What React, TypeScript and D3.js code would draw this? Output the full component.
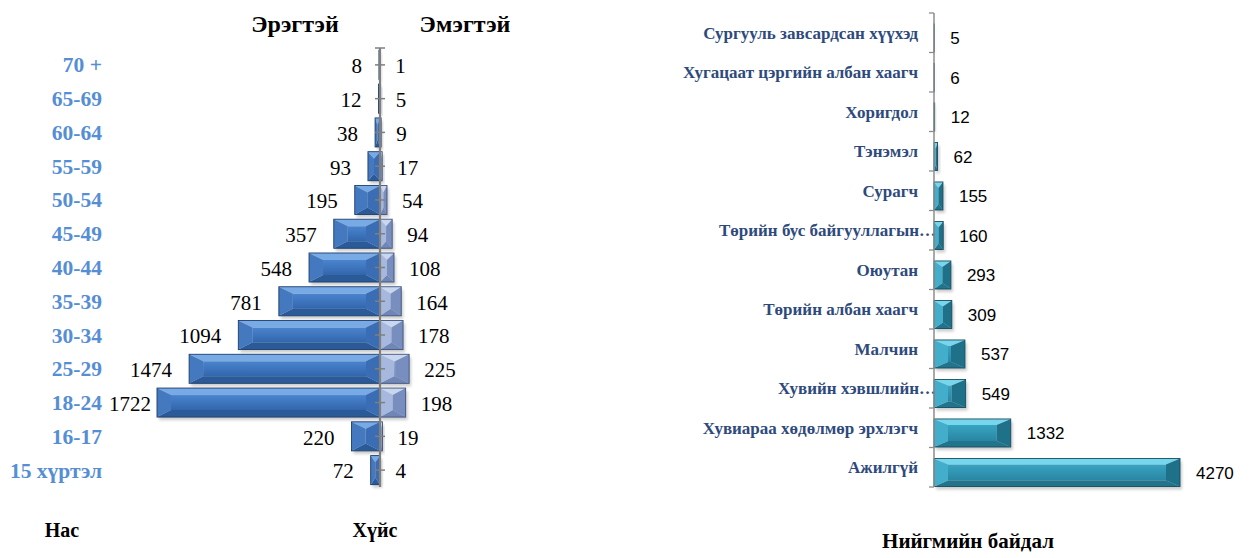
import React from 'react';
import * as d3 from 'd3';

// Нас / хүйсээр
const ageGroups = ['70 +', '65-69', '60-64', '55-59', '50-54', '45-49', '40-44', '35-39', '30-34', '25-29', '18-24', '16-17', '15 хүртэл'];
const maleCounts = [8, 12, 38, 93, 195, 357, 548, 781, 1094, 1474, 1722, 220, 72];
const femaleCounts = [1, 5, 9, 17, 54, 94, 108, 164, 178, 225, 198, 19, 4];

// Нийгмийн байдал
const statusLabels = [
  'Сургууль завсардсан хүүхэд',
  'Хугацаат цэргийн албан хаагч',
  'Хоригдол',
  'Тэнэмэл',
  'Сурагч',
  'Төрийн бус байгууллагын…',
  'Оюутан',
  'Төрийн албан хаагч',
  'Малчин',
  'Хувийн хэвшлийн…',
  'Хувиараа хөдөлмөр эрхлэгч',
  'Ажилгүй',
];
const statusCounts = [5, 6, 12, 62, 155, 160, 293, 309, 537, 549, 1332, 4270];

const SERIF = '"Liberation Serif", "Times New Roman", serif';
const SANS = '"Liberation Sans", Arial, sans-serif';

type Pal = { face0: string; face1: string; top: string; bottom: string; left: string; right: string; line: string };

const malePal: Pal = { face0: '#4A84CE', face1: '#3266AC', top: '#78AAE6', bottom: '#2A5A98', left: '#4479C0', right: '#3A6DB3', line: '#1C3D6C' };
const femalePal: Pal = { face0: '#93A7D2', face1: '#8297C6', top: '#C9D6EF', bottom: '#7086B6', left: '#A6B8DD', right: '#788EBE', line: '#3E537E' };
const tealPal: Pal = { face0: '#38A4C2', face1: '#2986A2', top: '#78D6EC', bottom: '#22738C', left: '#43AECB', right: '#1F7089', line: '#144E61' };

function BevelBar({ x, y, w, h, pal, id, ey0 = 7 }: { x: number; y: number; w: number; h: number; pal: Pal; id: string; ey0?: number }) {
  if (w <= 0.2) return null;
  const ex = Math.min(14, w / 2);
  const ey = Math.min(ey0, h / 2);
  const x0 = x, x1 = x + w, y0 = y, y1 = y + h;
  const ix0 = x0 + ex, ix1 = x1 - ex, iy0 = y0 + ey, iy1 = y1 - ey;
  const pts = (a: number[][]) => a.map(p => p.join(',')).join(' ');
  return (
    <g>
      <rect x={x + 2} y={y + 3} width={w} height={h} fill="#000" opacity={0.2} filter="url(#soft)" />
      <rect x={ix0} y={iy0} width={Math.max(0, ix1 - ix0)} height={Math.max(0, iy1 - iy0)} fill={`url(#${id})`} />
      <polygon points={pts([[x0, y0], [x1, y0], [ix1, iy0], [ix0, iy0]])} fill={pal.top} />
      <polygon points={pts([[x0, y1], [x1, y1], [ix1, iy1], [ix0, iy1]])} fill={pal.bottom} />
      <polygon points={pts([[x0, y0], [ix0, iy0], [ix0, iy1], [x0, y1]])} fill={pal.left} />
      <polygon points={pts([[x1, y0], [ix1, iy0], [ix1, iy1], [x1, y1]])} fill={pal.right} />
      <rect x={x0} y={y0} width={w} height={h} fill="none" stroke={pal.line} strokeWidth={0.9} />
    </g>
  );
}

function Grad({ id, pal }: { id: string; pal: Pal }) {
  return (
    <linearGradient id={id} x1="0" y1="0" x2="0" y2="1">
      <stop offset="0%" stopColor={pal.face0} />
      <stop offset="100%" stopColor={pal.face1} />
    </linearGradient>
  );
}

export default function App() {
  // pyramid
  const axisX = 380;
  const len = d3.scaleLinear().domain([0, 1722]).range([0, 223]);
  const yAge = d3.scaleBand<string>().domain(ageGroups).range([48, 487]).paddingInner(0.14).paddingOuter(0.07);
  const ageRowY = (a: string) => (yAge(a) ?? 0) + yAge.bandwidth() / 2;
  const ageLabelX = 102;

  // social status
  const baseX = 934;
  const xS = d3.scaleLinear().domain([0, 4270]).range([baseX, 1180]);
  const yS = d3.scaleBand<string>().domain(statusLabels).range([13, 487]).padding(0);
  const barH = yS.bandwidth() * 0.71;

  return (
    <svg width={1251} height={558} style={{ position: 'absolute', left: 0, top: 0, background: '#fff' }}>
      <defs>
        <filter id="soft" x="-20%" y="-20%" width="140%" height="160%">
          <feGaussianBlur stdDeviation="1.4" />
        </filter>
        <Grad id="gMale" pal={malePal} />
        <Grad id="gFemale" pal={femalePal} />
        <Grad id="gTeal" pal={tealPal} />
      </defs>

      {/* ---------- Population pyramid ---------- */}
      <text x={295} y={32} textAnchor="middle" fontFamily={SERIF} fontWeight="bold" fontSize={24} fill="#000">Эрэгтэй</text>
      <text x={465} y={32} textAnchor="middle" fontFamily={SERIF} fontWeight="bold" fontSize={24} fill="#000">Эмэгтэй</text>

      {ageGroups.map((a, i) => {
        const cy = ageRowY(a);
        const y0 = yAge(a) ?? 0;
        const mw = len(maleCounts[i]);
        const fw = len(femaleCounts[i]);
        const maleLabelRight = Math.max(axisX - mw - 17, ageLabelX + 49);
        return (
          <g key={a}>
            <BevelBar x={axisX - mw} y={y0} w={mw} h={yAge.bandwidth()} pal={malePal} id="gMale" />
            <BevelBar x={axisX} y={y0} w={fw} h={yAge.bandwidth()} pal={femalePal} id="gFemale" />
            <text x={ageLabelX} y={cy} dy="0.35em" textAnchor="end" fontFamily={SERIF} fontWeight="bold" fontSize={21.5} fill="#558ED5">{a}</text>
            <text x={maleLabelRight} y={cy + 1} dy="0.35em" textAnchor="end" fontFamily={SERIF} fontSize={21} fill="#000">{maleCounts[i]}</text>
            <text x={axisX + fw + 15} y={cy + 1} dy="0.35em" textAnchor="start" fontFamily={SERIF} fontSize={21} fill="#000">{femaleCounts[i]}</text>
          </g>
        );
      })}

      {/* axis */}
      <line x1={axisX} x2={axisX} y1={48} y2={487} stroke="#7F7F7F" strokeWidth={2.2} />
      <line x1={axisX - 5} x2={axisX + 5} y1={48} y2={48} stroke="#7F7F7F" strokeWidth={1.5} />
      {ageGroups.map(a => (
        <line key={a} x1={axisX - 5} x2={axisX + 5} y1={ageRowY(a)} y2={ageRowY(a)} stroke="#7F7F7F" strokeWidth={1.5} />
      ))}

      <text x={62} y={537} textAnchor="middle" fontFamily={SERIF} fontWeight="bold" fontSize={20} fill="#000">Нас</text>
      <text x={375} y={537} textAnchor="middle" fontFamily={SERIF} fontWeight="bold" fontSize={20} fill="#000">Хүйс</text>

      {/* ---------- Social status ---------- */}
      {statusLabels.map((c, i) => {
        const b0 = yS(c) ?? 0;
        const cy = b0 + yS.bandwidth() / 2;
        const by = b0 + yS.bandwidth() - barH - 0.5;
        const w = xS(statusCounts[i]) - baseX;
        const truncated = c.endsWith('…');
        return (
          <g key={c}>
            <BevelBar x={baseX} y={by} w={w} h={barH} pal={tealPal} id="gTeal" ey0={6} />
            <text x={truncated ? 936 : 918} y={cy} dy="0.35em" textAnchor="end" fontFamily={SERIF} fontWeight="bold" fontSize={17} fill="#2E4A7C">{c}</text>
            <text x={xS(statusCounts[i]) + 16} y={by + barH / 2} dy="0.36em" fontFamily={SANS} fontSize={17} fill="#000">{statusCounts[i]}</text>
          </g>
        );
      })}
      <line x1={baseX} x2={baseX} y1={13} y2={487} stroke="#8C8C8C" strokeWidth={1.5} />
      {d3.range(statusLabels.length + 1).map(k => {
        const yy = 13 + k * yS.step();
        return <line key={k} x1={baseX - 5} x2={baseX} y1={yy} y2={yy} stroke="#8C8C8C" strokeWidth={1.3} />;
      })}

      <text x={968} y={548} textAnchor="middle" fontFamily={SERIF} fontWeight="bold" fontSize={21} fill="#000">Нийгмийн байдал</text>
    </svg>
  );
}
